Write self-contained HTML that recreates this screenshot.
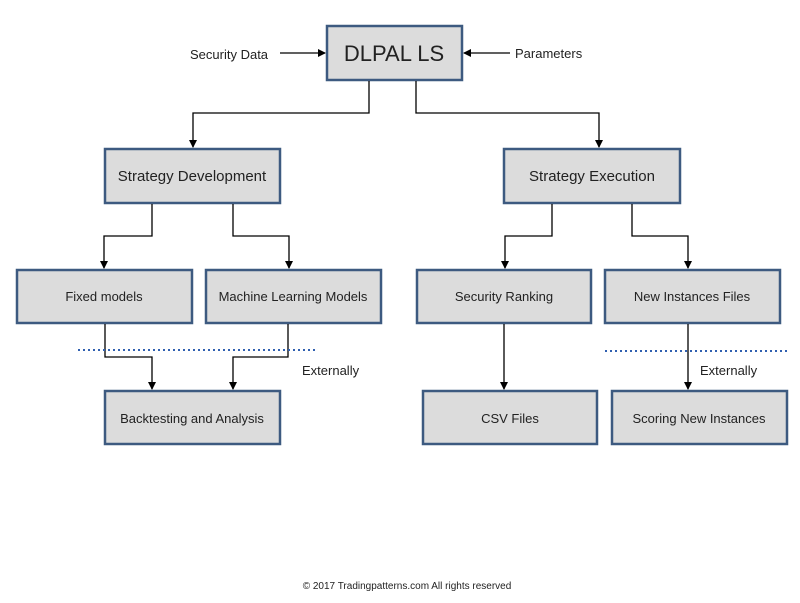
<!DOCTYPE html>
<html><head><style>
body{margin:0;background:#fff;}
svg text{font-family:"Liberation Sans",Arial,sans-serif;fill:#222;}
</style></head><body>
<svg width="800" height="598" viewBox="0 0 800 598" xmlns="http://www.w3.org/2000/svg">
<defs><marker id="a" markerWidth="8" markerHeight="8" refX="7" refY="4" orient="auto" markerUnits="userSpaceOnUse"><path d="M0,0 L8,4 L0,8 z" fill="#000"/></marker></defs>
<g fill="#dcdcdc" stroke="#3d5a80" stroke-width="2.5">
<rect x="327" y="26" width="135" height="54"/>
<rect x="105" y="149" width="175" height="54"/>
<rect x="504" y="149" width="176" height="54"/>
<rect x="17" y="270" width="175" height="53"/>
<rect x="206" y="270" width="175" height="53"/>
<rect x="417" y="270" width="174" height="53"/>
<rect x="605" y="270" width="175" height="53"/>
<rect x="105" y="391" width="175" height="53"/>
<rect x="423" y="391" width="174" height="53"/>
<rect x="612" y="391" width="175" height="53"/>
</g>
<g fill="none" stroke="#000" stroke-width="1.3" marker-end="url(#a)">
<path d="M280 53 H325"/>
<path d="M510 53 H464"/>
<path d="M369 81 V113 H193 V147"/>
<path d="M416 81 V113 H599 V147"/>
<path d="M152 204 V236 H104 V268"/>
<path d="M233 204 V236 H289 V268"/>
<path d="M552 204 V236 H505 V268"/>
<path d="M632 204 V236 H688 V268"/>
<path d="M105 324 V357 H152 V389"/>
<path d="M288 324 V357 H233 V389"/>
<path d="M504 324 V389"/>
<path d="M688 324 V389"/>
</g>
<g stroke="#3060b0" stroke-width="2" stroke-dasharray="2,3">
<path d="M78 350 H315"/>
<path d="M605 351 H789"/>
</g>
<text x="394" y="61" font-size="22" text-anchor="middle" fill="#111">DLPAL LS</text>
<text x="192" y="181" font-size="15" text-anchor="middle">Strategy Development</text>
<text x="592" y="181" font-size="15" text-anchor="middle">Strategy Execution</text>
<g font-size="13" text-anchor="middle">
<text x="104" y="301">Fixed models</text>
<text x="293" y="301">Machine Learning Models</text>
<text x="504" y="301">Security Ranking</text>
<text x="692" y="301">New Instances Files</text>
<text x="192" y="423">Backtesting and Analysis</text>
<text x="510" y="423">CSV Files</text>
<text x="699" y="423">Scoring New Instances</text>
</g>
<g font-size="13">
<text x="190" y="59">Security Data</text>
<text x="515" y="58">Parameters</text>
<text x="302" y="375">Externally</text>
<text x="700" y="375">Externally</text>
</g>
<text x="407" y="589" font-size="10" text-anchor="middle">©  2017 Tradingpatterns.com All rights reserved</text>
</svg>
</body></html>
